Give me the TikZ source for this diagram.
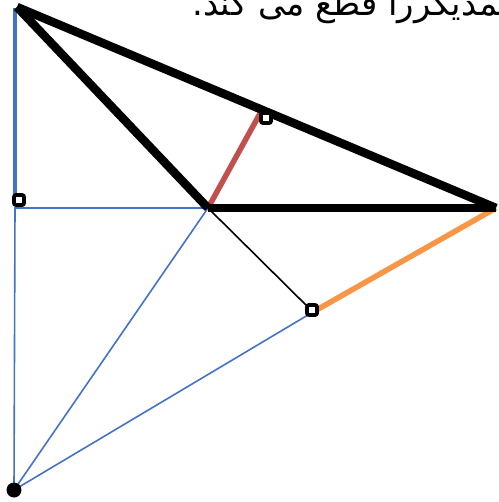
\documentclass[tikz,border=0pt]{standalone}
\usepackage{fontspec}
\usepackage{xcolor}
\usepackage{tikz}
\newfontfamily\arabicfont[Script=Arabic]{DejaVu Sans}
\TeXXeTstate=1
\definecolor{corazul}{RGB}{68,114,196}
\definecolor{corvermelho}{RGB}{192,80,77}
\definecolor{corlaranja}{RGB}{247,150,70}

\begin{document}
\begin{tikzpicture}[
  x=1pt, y=-1pt,
  lado/.style={draw=black, line width=8.5pt},
  fino/.style={draw=corazul, line width=1.6pt},
  marca/.style={rectangle, rounded corners=2pt, draw=black, fill=white,
                line width=3.8pt, minimum size=10pt, inner sep=0pt}
]
  \useasboundingbox (0,0) rectangle (498,502);

  \coordinate (A) at (17,7);
  \coordinate (O) at (208,208);
  \coordinate (C) at (496,208);
  \coordinate (H) at (263,108);
  \coordinate (E) at (15,200);
  \coordinate (F) at (15,208);
  \coordinate (D) at (313,312);
  \coordinate (B) at (14,490);

  \node[anchor=base east, inner sep=0pt,
        font=\fontsize{34}{40}\selectfont\arabicfont]
    (titulo) at (517,16) {\beginR همدیگررا قطع می کند.\endR};

  \draw[fino] (B) -- (F) -- (O);
  \draw[fino] (B) -- (O);
  \draw[fino] (B) -- (D);
  \draw[black, line width=1.6pt] (O) -- (D);
  \draw[corlaranja, line width=5.5pt] (D) -- (C);
  \draw[corvermelho, line width=5.5pt] (O) -- (H);
  \draw[corazul, line width=4.5pt] (15,8) -- (E);

  \draw[lado] (A) -- (C);
  \draw[lado] (A) -- (O);
  \draw[lado] (O) -- (C);

  \node[marca] (m1) at (19,200) {};
  \node[marca] (m2) at (266,118) {};
  \node[marca] (m3) at (312,310) {};
  \fill[black] (B) circle (7.5pt);
\end{tikzpicture}
\end{document}
